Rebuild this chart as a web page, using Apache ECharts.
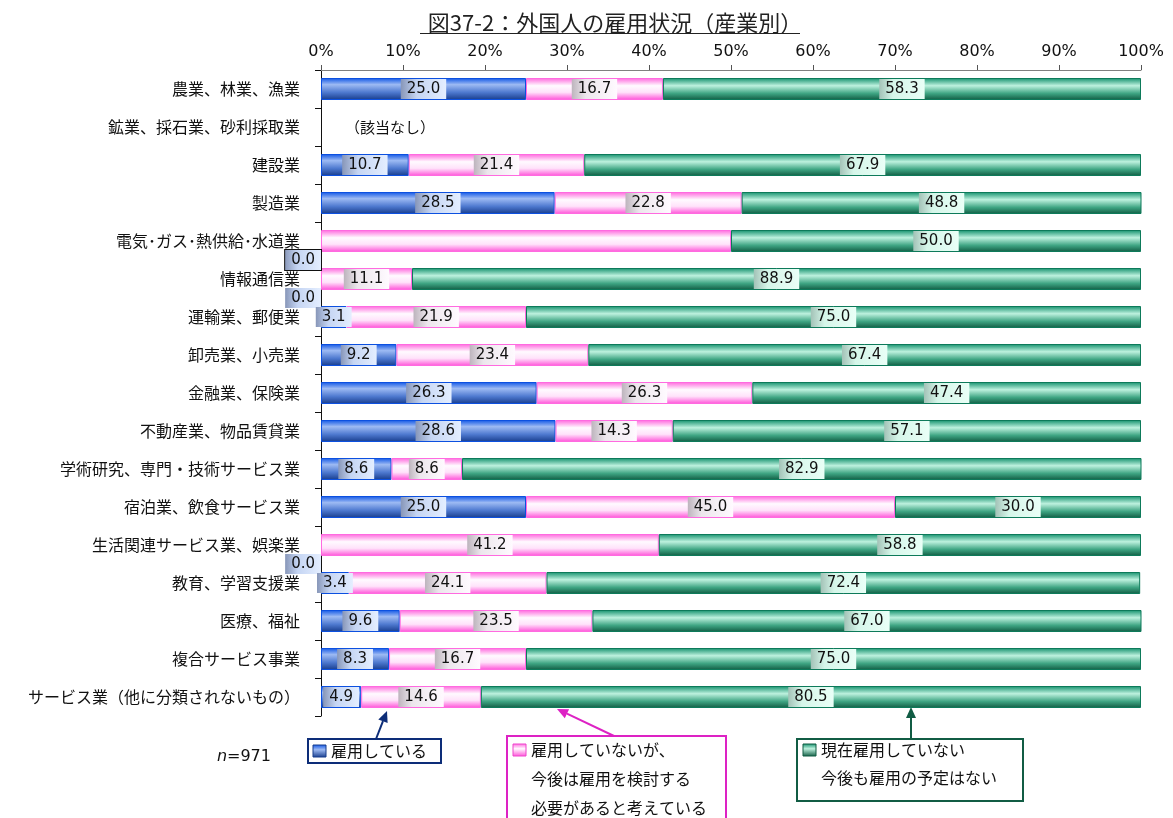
<!DOCTYPE html>
<html>
<head>
<meta charset="utf-8">
<script src="https://cdn.jsdelivr.net/npm/echarts@6/dist/echarts.min.js"></script>
<style>
  html, body { margin: 0; padding: 0; background: #ffffff; }
  #chart { width: 1173px; height: 818px; }
</style>
</head>
<body>
<div id="chart"></div>
<script>
// Industries (top to bottom)
const categories = [
  '農業、林業、漁業',
  '鉱業、採石業、砂利採取業',
  '建設業',
  '製造業',
  '電気･ガス･熱供給･水道業',
  '情報通信業',
  '運輸業、郵便業',
  '卸売業、小売業',
  '金融業、保険業',
  '不動産業、物品賃貸業',
  '学術研究、専門・技術サービス業',
  '宿泊業、飲食サービス業',
  '生活関連サービス業、娯楽業',
  '教育、学習支援業',
  '医療、福祉',
  '複合サービス事業',
  'サービス業（他に分類されないもの）'
];

// Share of companies (%), null = no applicable companies
const employing = [25.0, null, 10.7, 28.5, 0.0, 0.0, 3.1, 9.2, 26.3, 28.6, 8.6, 25.0, 0.0, 3.4, 9.6, 8.3, 4.9];
const considering = [16.7, null, 21.4, 22.8, 50.0, 11.1, 21.9, 23.4, 26.3, 14.3, 8.6, 45.0, 41.2, 24.1, 23.5, 16.7, 14.6];
const noPlan = [58.3, null, 67.9, 48.8, 50.0, 88.9, 75.0, 67.4, 47.4, 57.1, 82.9, 30.0, 58.8, 72.4, 67.0, 75.0, 80.5];

// Segments whose value label is not printed
const hiddenConsideringLabels = ['電気･ガス･熱供給･水道業'];

const xTicks = [0, 10, 20, 30, 40, 50, 60, 70, 80, 90, 100];

const seriesNames = ['雇用している', '雇用していないが、今後は雇用を検討する必要があると考えている', '現在雇用していない今後も雇用の予定はない'];
const notApplicableText = '（該当なし）';
const sampleSizeText = '=971';
const titleText = '図37-2：外国人の雇用状況（産業別）';

const NUM_FONT = '"DejaVu Sans", Verdana, sans-serif';
const JP_FONT = '"Noto Sans CJK JP", sans-serif';

function vGrad(stops) {
  return new echarts.graphic.LinearGradient(0, 0, 0, 1,
    stops.map(s => ({ offset: s[0], color: s[1] })));
}
function hGrad(stops) {
  return new echarts.graphic.LinearGradient(0, 0, 1, 0,
    stops.map(s => ({ offset: s[0], color: s[1] })));
}

const blueFill = vGrad([[0, '#0f55e6'], [0.3, '#9dbaf3'], [0.65, '#4f7ad0'], [1, '#173c8c']]);
const pinkFill = vGrad([[0, '#ff66dd'], [0.35, '#fffaff'], [0.65, '#ffe2fa'], [1, '#ff50d8']]);
const greenFill = vGrad([[0, '#12906c'], [0.35, '#bdf1de'], [0.7, '#3fa583'], [1, '#115c43']]);

const blueLabelBg = hGrad([[0, '#8796b8'], [0.35, '#c5d5f3'], [1, '#e4eeff']]);
const pinkLabelBg = hGrad([[0, '#bdb4bd'], [0.3, '#ece6ec'], [1, '#fffaff']]);
const greenLabelBg = hGrad([[0, '#a3c2b7'], [0.3, '#d5f6e9'], [1, '#eafff7']]);

function baseLabel(bg) {
  return {
    show: true,
    position: 'inside',
    color: '#111111',
    fontFamily: NUM_FONT,
    fontSize: 15,
    backgroundColor: bg,
    padding: [3, 6, 2, 6],
    formatter: p => (p.value == null ? '' : Number(p.value).toFixed(1))
  };
}

// First series: zero-width segments print their 0.0 tag left of the axis,
// and the row without companies carries the "not applicable" note.
let firstZero = true;
const employingData = employing.map((v, i) => {
  if (v === null) {
    return {
      value: 0,
      itemStyle: { borderWidth: 0, color: 'transparent' },
      label: {
        show: true,
        position: 'right',
        distance: 24,
        formatter: notApplicableText,
        fontFamily: JP_FONT,
        fontSize: 15,
        color: '#111111',
        backgroundColor: 'transparent',
        padding: 0
      }
    };
  }
  if (v === 0) {
    const item = {
      value: v,
      itemStyle: { borderWidth: 0, color: 'transparent' },
      label: {
        position: 'left',
        distance: 0,
        offset: [0, 19]
      }
    };
    if (firstZero) {
      item.label.borderColor = '#111111';
      item.label.borderWidth = 1;
      firstZero = false;
    }
    return item;
  }
  return v;
});

const consideringData = considering.map((v, i) => {
  if (v === null) return '-';
  if (hiddenConsideringLabels.includes(categories[i])) {
    return { value: v, label: { show: false } };
  }
  return v;
});
const noPlanData = noPlan.map(v => (v === null ? '-' : v));

const chart = echarts.init(document.getElementById('chart'), null, { renderer: 'canvas' });

// Legend call-out boxes with arrows pointing at the bars
function arrow(x1, y1, x2, y2, color) {
  const ang = Math.atan2(y2 - y1, x2 - x1);
  const len = 11, half = 5;
  const bx = x2 - len * Math.cos(ang), by = y2 - len * Math.sin(ang);
  const px = -Math.sin(ang) * half, py = Math.cos(ang) * half;
  return [
    { type: 'line', shape: { x1: x1, y1: y1, x2: bx, y2: by }, style: { stroke: color, lineWidth: 2 } },
    { type: 'polygon', shape: { points: [[x2, y2], [bx + px, by + py], [bx - px, by - py]] }, style: { fill: color } }
  ];
}
function swatch(x, y, fill, stroke) {
  return { type: 'rect', shape: { x: x, y: y, width: 13, height: 12 }, style: { fill: fill, stroke: stroke, lineWidth: 1 } };
}
function jpText(x, y, text) {
  return { type: 'text', x: x, y: y, style: { text: text, font: '16px ' + JP_FONT, fill: '#111111', textVerticalAlign: 'middle' } };
}

const graphics = [
  // title underline
  { type: 'line', shape: { x1: 420, y1: 33.5, x2: 800, y2: 33.5 }, style: { stroke: '#222222', lineWidth: 1 } },

  // box 1
  { type: 'rect', shape: { x: 308, y: 739, width: 133, height: 24 }, style: { fill: '#ffffff', stroke: '#0d2d78', lineWidth: 2 } },
  swatch(313, 745, vGrad([[0, '#0f55e6'], [0.4, '#9dbaf3'], [1, '#173c8c']]), '#173c8c'),
  jpText(331, 751, '雇用している'),
  ...arrow(376, 739, 387, 711, '#0d2d78'),

  // box 2
  { type: 'rect', shape: { x: 507, y: 736, width: 219, height: 95 }, style: { fill: '#ffffff', stroke: '#dd22c4', lineWidth: 2 } },
  swatch(513, 744, vGrad([[0, '#ff66dd'], [0.4, '#fffaff'], [1, '#ff50d8']]), '#ee44cc'),
  jpText(531, 750, '雇用していないが、'),
  jpText(531, 779, '今後は雇用を検討する'),
  jpText(531, 808, '必要があると考えている'),
  ...arrow(614, 736, 557, 709, '#dd22c4'),

  // box 3
  { type: 'rect', shape: { x: 797, y: 739, width: 226, height: 62 }, style: { fill: '#ffffff', stroke: '#115c44', lineWidth: 2 } },
  swatch(803, 744, vGrad([[0, '#12906c'], [0.4, '#bdf1de'], [1, '#115c43']]), '#115c43'),
  jpText(821, 750, '現在雇用していない'),
  jpText(821, 778, '今後も雇用の予定はない'),
  ...arrow(911, 739, 911, 707, '#115c44'),

  // sample size
  { type: 'text', x: 217, y: 757, style: { text: 'n', font: 'italic 16px ' + NUM_FONT, fill: '#111111', textVerticalAlign: 'middle' } },
  { type: 'text', x: 227, y: 757, style: { text: sampleSizeText, font: '16px ' + NUM_FONT, fill: '#111111', textVerticalAlign: 'middle' } }
];

const option = {
  animation: false,
  backgroundColor: '#ffffff',
  title: {
    text: titleText,
    left: 610,
    textAlign: 'center',
    top: 7,
    textStyle: { fontFamily: JP_FONT, fontSize: 22, fontWeight: 'normal', color: '#222222' }
  },
  grid: { left: 321, top: 70, width: 820, height: 646, containLabel: false },
  xAxis: {
    type: 'value',
    position: 'top',
    min: xTicks[0],
    max: xTicks[xTicks.length - 1],
    interval: xTicks[1] - xTicks[0],
    axisLine: { show: true, lineStyle: { color: '#808080', width: 1 } },
    axisTick: { show: true, length: 5, lineStyle: { color: '#555555' } },
    splitLine: { show: false },
    axisLabel: {
      formatter: '{value}%',
      color: '#111111',
      fontFamily: NUM_FONT,
      fontSize: 16,
      margin: 10
    }
  },
  yAxis: {
    type: 'category',
    data: categories,
    inverse: true,
    axisLine: { show: true, lineStyle: { color: '#111111', width: 1 } },
    axisTick: { show: true, length: 6, alignWithLabel: false, lineStyle: { color: '#111111' } },
    axisLabel: {
      color: '#111111',
      fontFamily: JP_FONT,
      fontSize: 16,
      margin: 21
    }
  },
  series: [
    {
      name: seriesNames[0],
      type: 'bar',
      stack: 'total',
      barWidth: 22,
      data: employingData,
      itemStyle: { color: blueFill, borderColor: '#0c50e0', borderWidth: 1 },
      label: baseLabel(blueLabelBg)
    },
    {
      name: seriesNames[1],
      type: 'bar',
      stack: 'total',
      barWidth: 22,
      data: consideringData,
      itemStyle: { color: pinkFill, borderColor: '#ff6ae0', borderWidth: 1 },
      label: baseLabel(pinkLabelBg)
    },
    {
      name: seriesNames[2],
      type: 'bar',
      stack: 'total',
      barWidth: 22,
      data: noPlanData,
      itemStyle: { color: greenFill, borderColor: '#0d7a5a', borderWidth: 1 },
      label: baseLabel(greenLabelBg)
    }
  ],
  graphic: graphics
};

chart.setOption(option);
</script>
</body>
</html>
